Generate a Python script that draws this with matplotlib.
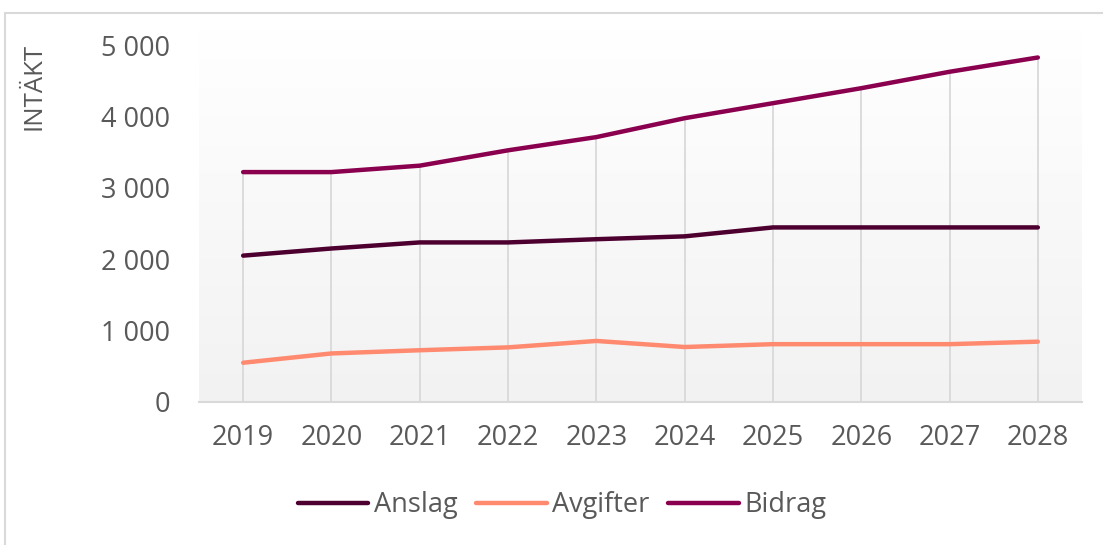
import matplotlib
matplotlib.use("Agg")
import matplotlib.pyplot as plt
import numpy as np
from matplotlib.patches import Rectangle
from matplotlib.ticker import FuncFormatter

years = ["2019", "2020", "2021", "2022", "2023", "2024", "2025", "2026", "2027", "2028"]
anslag = [2050, 2150, 2235, 2235, 2280, 2320, 2445, 2445, 2445, 2445]
avgifter = [550, 680, 725, 765, 855, 770, 810, 810, 810, 845]
bidrag = [3220, 3220, 3310, 3525, 3710, 3975, 4185, 4395, 4625, 4825]

colors = {"Anslag": "#4D0030", "Avgifter": "#FF8A70", "Bidrag": "#8A004F"}
text_color = "#595959"

plt.rcParams["font.family"] = ["Open Sans", "DejaVu Sans"]

fig = plt.figure(figsize=(11.03, 5.45), dpi=100)
W, H = 1103, 545
ax = fig.add_axes([199 / W, 1 - 402 / H, (1082 - 199) / W, (402 - 30) / H])

x = np.arange(len(years))
for name, vals in (("Anslag", anslag), ("Avgifter", avgifter), ("Bidrag", bidrag)):
    ax.plot(x, vals, color=colors[name], lw=3.2, solid_capstyle="round",
            solid_joinstyle="round", label=name, zorder=3)

# drop lines from the highest series to the axis
tops = np.max(np.vstack([anslag, avgifter, bidrag]), axis=0)
ax.vlines(x, 0, tops, color="#d9d9d9", lw=1.3, zorder=1)

ymax = 5000 * (402 - 30) / (402 - 45)
ax.set_xlim(-0.5, len(years) - 0.5)
ax.set_yticks([0, 1000, 2000, 3000, 4000, 5000])
ax.yaxis.set_major_formatter(FuncFormatter(lambda v, p: f"{int(v):,}".replace(",", " ")))
ax.set_xticks(x)
ax.set_xticklabels(years)

# gradient background
grad = np.linspace(1, 0, 256).reshape(-1, 1)
ax.imshow(grad, extent=[-0.5, len(years) - 0.5, 0, ymax], aspect="auto",
          cmap=matplotlib.colors.LinearSegmentedColormap.from_list("g", ["#f2f2f2", "#ffffff"]),
          zorder=0, origin="upper")
ax.set_ylim(0, ymax)

ax.grid(False)
for s in ("top", "right", "left"):
    ax.spines[s].set_visible(False)
ax.spines["bottom"].set_color("#d9d9d9")
ax.spines["bottom"].set_linewidth(1.5)
ax.set_facecolor("none")
ax.tick_params(axis="both", length=0, labelsize=19.5, colors=text_color)
ax.tick_params(axis="y", pad=21)
ax.tick_params(axis="x", pad=16)

fig.text(34 / W, 1 - 86 / H, "INTÄKT", rotation=90, ha="center", va="center",
         fontsize=18.5, color=text_color)

leg = fig.legend(loc="center", bbox_to_anchor=(562 / W, 1 - 505 / H), ncol=3, frameon=False,
                 fontsize=19.5, labelcolor=text_color, handlelength=2.6, handletextpad=0.2,
                 columnspacing=0.7)

fig.patches.append(Rectangle((5 / W, -0.1), 1.2, 1 - 13 / H + 0.1, transform=fig.transFigure,
                             fill=False, edgecolor="#d9d9d9", lw=1.5))

fig.savefig("out.png", dpi=100)
